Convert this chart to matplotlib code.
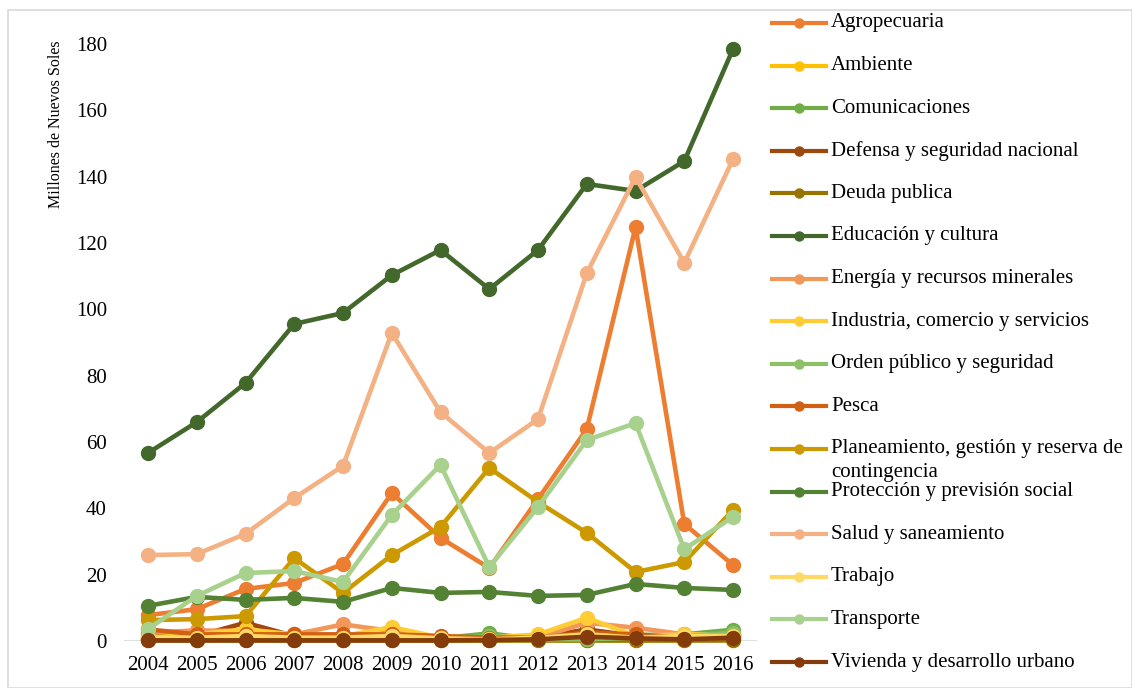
import matplotlib.pyplot as plt
from matplotlib.lines import Line2D
from matplotlib.patches import Rectangle

plt.rcParams['font.family'] = ['Liberation Serif', 'DejaVu Serif']

years = ['2004', '2005', '2006', '2007', '2008', '2009', '2010',
         '2011', '2012', '2013', '2014', '2015', '2016']

agropecuaria = [7.8, 9.6, 15.7, 17.5, 23.2, 44.6, 31.1, 22.0, 42.8, 63.9, 124.8, 35.3, 22.9]
ambiente = [0.3, 0.3, 0.5, 0.3, 0.3, 0.3, 0.2, 0.2, 0.3, 0.3, 0.2, 0.3, 0.4]
comunicaciones = [0.5, 0.5, 0.5, 0.5, 0.5, 0.5, 0.8, 2.3, 0.5, 0.2, 1.8, 2.0, 3.4]
defensa = [1.5, 1.5, 5.5, 1.5, 1.5, 1.5, 1.0, 1.0, 1.0, 3.5, 1.5, 1.0, 1.5]
deuda = [0.2, 0.2, 0.2, 0.2, 0.2, 0.2, 0.2, 0.2, 0.2, 0.2, 0.2, 0.2, 0.2]
educacion = [56.7, 66.0, 77.8, 95.6, 98.9, 110.3, 117.9, 106.1, 117.9, 137.8, 135.7, 144.7, 178.5]
energia = [2.5, 3.2, 3.0, 2.0, 5.0, 3.0, 1.0, 1.0, 1.0, 5.5, 4.0, 2.0, 2.0]
industria = [1.0, 2.0, 3.5, 2.0, 1.5, 4.2, 1.0, 1.0, 2.0, 7.0, 1.5, 2.0, 2.0]
orden = [0.5, 0.5, 0.5, 0.5, 0.5, 0.5, 0.5, 1.5, 0.5, 0.5, 1.0, 1.5, 2.5]
pesca = [3.5, 2.0, 2.0, 2.0, 2.0, 2.0, 1.5, 1.0, 1.0, 2.5, 2.0, 1.0, 1.5]
planeamiento = [6.3, 6.6, 7.5, 25.0, 14.5, 25.9, 34.4, 52.2, 41.9, 32.6, 20.8, 23.8, 39.5]
proteccion = [10.6, 13.3, 12.4, 13.0, 11.8, 16.0, 14.5, 14.8, 13.6, 13.9, 17.2, 16.0, 15.4]
salud = [25.9, 26.2, 32.3, 43.1, 52.8, 92.9, 69.0, 56.7, 66.9, 110.9, 139.9, 114.0, 145.3]
trabajo = [0.8, 1.0, 1.5, 1.0, 1.0, 1.5, 0.8, 0.5, 1.0, 2.0, 1.0, 1.5, 1.5]
transporte = [3.6, 13.6, 20.5, 21.1, 17.8, 38.0, 53.1, 22.3, 40.4, 60.6, 65.7, 27.7, 37.4]
vivienda = [0.2, 0.2, 0.2, 0.2, 0.2, 0.2, 0.2, 0.3, 0.5, 1.3, 0.8, 0.5, 1.0]

series = [
    ('Agropecuaria', agropecuaria, '#ED7D31'),
    ('Ambiente', ambiente, '#FFC000'),
    ('Comunicaciones', comunicaciones, '#70AD47'),
    ('Defensa y seguridad nacional', defensa, '#9E480E'),
    ('Deuda publica', deuda, '#997300'),
    ('Educación y cultura', educacion, '#43682B'),
    ('Energía y recursos minerales', energia, '#F1975A'),
    ('Industria, comercio y servicios', industria, '#FFCD33'),
    ('Orden público y seguridad', orden, '#8CC168'),
    ('Pesca', pesca, '#D26012'),
    ('Planeamiento, gestión y reserva de\ncontingencia', planeamiento, '#CC9A00'),
    ('Protección y previsión social', proteccion, '#548235'),
    ('Salud y saneamiento', salud, '#F4B183'),
    ('Trabajo', trabajo, '#FFD966'),
    ('Transporte', transporte, '#A9D18E'),
    ('Vivienda y desarrollo urbano', vivienda, '#843C0C'),
]

fig = plt.figure(figsize=(11.32, 6.88), dpi=100)
ax = fig.add_axes([0.1092, 0.0683, 0.5599, 0.8677])

x = range(len(years))
for name, vals, col in series:
    ax.plot(x, vals, color=col, lw=3.3, marker='o', markersize=10,
            clip_on=False, solid_capstyle='round')

ax.set_xlim(-0.5, len(years) - 0.5)
ax.set_ylim(0, 180)
ax.set_yticks(range(0, 181, 20))
ax.set_xticks(list(x))
ax.set_xticklabels(years)
ax.tick_params(length=0, labelsize=15)
ax.tick_params(axis='x', pad=11)
ax.tick_params(axis='y', pad=12)
for s in ax.spines.values():
    s.set_visible(False)
ax.axhline(0, color='#D9D9D9', lw=1.2, zorder=0)

fig.text(56 / 1132, 1 - 124 / 688, 'Millones de Nuevos Soles', rotation=90,
         ha='center', va='center', fontsize=11.5)

# legend drawn by hand so the wrapped entry overlaps like the original
for i, (name, vals, col) in enumerate(series):
    yc = 1 - (23 + i * 42.6) / 688
    fig.add_artist(Line2D([772 / 1132, 826 / 1132], [yc, yc], color=col, lw=3,
                          transform=fig.transFigure))
    fig.add_artist(Line2D([799 / 1132], [yc], color=col, marker='o', markersize=6.5,
                          transform=fig.transFigure))
    for j, part in enumerate(name.split('\n')):
        fig.text(831 / 1132, yc - j * 24 / 688, part, ha='left', va='center', fontsize=15)

fig.add_artist(Rectangle((8 / 1132, 0), 1 - 8 / 1132, 1 - 10 / 688, fill=False,
                         edgecolor='#D9D9D9', lw=1.2, transform=fig.transFigure))

fig.savefig('out.png', dpi=100)
